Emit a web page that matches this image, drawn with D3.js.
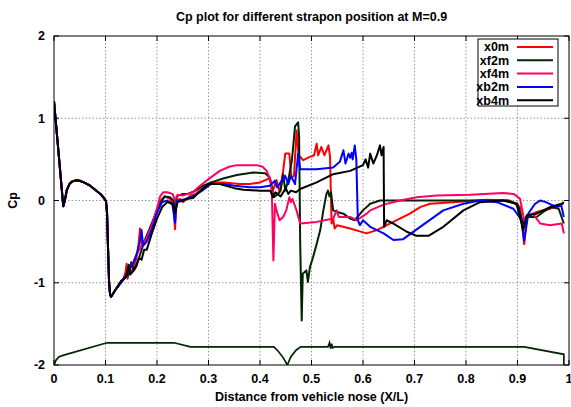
<!DOCTYPE html>
<html>
<head>
<meta charset="utf-8">
<script src="https://cdn.jsdelivr.net/npm/d3@7"></script>
<style>
  body { margin: 0; background: #fff; }
  svg text { font-family: "Liberation Sans", Arial, Helvetica, sans-serif; font-weight: bold; }
</style>
</head>
<body>
<svg id="chart"></svg>
<script>
// shared nose section (same for every strapon position)
let nose = [
  [0, 1.21], [0.018, -0.07], [0.021, 0.0], [0.025, 0.13], [0.03, 0.2], [0.035, 0.23],
  [0.042, 0.245], [0.05, 0.24], [0.06, 0.215], [0.07, 0.18], [0.08, 0.13], [0.09, 0.08],
  [0.097, 0.03], [0.101, -0.01], [0.103, -0.15], [0.105, -0.6], [0.107, -1.0],
  [0.109, -1.15], [0.111, -1.17]
];

let x0m = [
  [0.12, -1.08], [0.135, -0.95], [0.139, -0.87], [0.141, -0.77], [0.143, -0.95], [0.146, -0.82],
  [0.15, -0.88], [0.16, -0.7], [0.164, -0.55], [0.167, -0.34], [0.17, -0.55], [0.18, -0.45],
  [0.19, -0.3], [0.2, -0.1], [0.207, 0.0], [0.215, 0.05], [0.225, 0.02], [0.232, -0.05],
  [0.235, -0.35], [0.238, 0.0], [0.245, 0.02], [0.25, -0.02], [0.26, 0.03], [0.265, 0.06],
  [0.275, 0.08], [0.29, 0.15], [0.305, 0.22], [0.33, 0.22], [0.36, 0.2], [0.38, 0.2],
  [0.4, 0.22], [0.419, 0.27], [0.425, 0.12], [0.432, 0.25], [0.438, 0.1], [0.445, 0.36],
  [0.449, 0.57], [0.457, 0.57], [0.461, 0.28], [0.466, 0.3], [0.471, 0.85], [0.475, 0.55],
  [0.484, 0.49], [0.497, 0.53], [0.505, 0.55], [0.51, 0.69], [0.513, 0.55], [0.519, 0.65],
  [0.525, 0.55], [0.533, 0.67], [0.536, 0.53], [0.539, -0.28], [0.542, -0.22], [0.545, -0.34],
  [0.55, -0.3], [0.575, -0.34], [0.607, -0.4], [0.627, -0.36], [0.652, -0.28], [0.691, -0.16],
  [0.711, -0.08], [0.73, -0.04], [0.775, -0.02], [0.84, 0.01], [0.885, 0.0], [0.905, -0.08],
  [0.913, -0.53], [0.918, -0.2], [0.937, -0.14], [0.963, -0.1], [0.989, -0.04]
];

let xf2m = [
  [0.12, -1.08], [0.135, -0.96], [0.145, -0.9], [0.15, -0.75], [0.155, -0.85], [0.165, -0.7],
  [0.175, -0.5], [0.185, -0.35], [0.195, -0.2], [0.205, -0.05], [0.215, 0.05], [0.225, 0.04],
  [0.232, 0.0], [0.235, -0.12], [0.238, 0.05], [0.25, 0.08], [0.26, 0.08], [0.275, 0.12],
  [0.29, 0.18], [0.305, 0.22], [0.33, 0.27], [0.355, 0.31], [0.387, 0.34], [0.41, 0.33],
  [0.419, 0.28], [0.424, 0.12], [0.427, 0.04], [0.435, 0.08], [0.44, 0.12], [0.445, 0.32],
  [0.449, 0.12], [0.455, 0.25], [0.462, 0.49], [0.468, 0.9], [0.474, 0.95], [0.476, 0.77],
  [0.478, -0.5], [0.481, -1.46], [0.483, -0.89], [0.49, -0.85], [0.493, -0.99], [0.497, -0.81],
  [0.503, -0.69], [0.51, -0.53], [0.517, -0.36], [0.523, -0.12], [0.529, 0.08], [0.532, 0.12],
  [0.535, 0.05], [0.538, 0.1], [0.542, -0.12], [0.55, -0.14], [0.562, -0.16], [0.575, -0.22],
  [0.584, -0.24], [0.6, -0.12], [0.614, -0.04], [0.633, 0.0], [0.7, 0.0], [0.8, 0.0],
  [0.88, 0.0], [0.9, -0.04], [0.911, -0.28], [0.92, -0.2], [0.937, -0.2], [0.95, -0.14],
  [0.965, -0.08], [0.98, -0.1], [0.99, -0.28]
];

let xf4m = [
  [0.12, -1.08], [0.135, -0.95], [0.15, -0.8], [0.165, -0.6], [0.18, -0.45], [0.19, -0.3],
  [0.2, -0.1], [0.206, 0.05], [0.212, 0.1], [0.22, 0.1], [0.23, 0.08], [0.234, 0.02],
  [0.237, -0.05], [0.24, 0.07], [0.25, 0.06], [0.26, 0.08], [0.27, 0.1], [0.28, 0.16],
  [0.3, 0.26], [0.322, 0.36], [0.34, 0.41], [0.355, 0.43], [0.394, 0.43], [0.405, 0.41],
  [0.413, 0.36], [0.42, 0.25], [0.423, 0.1], [0.426, -0.73], [0.429, -0.04], [0.432, -0.12],
  [0.438, -0.24], [0.445, -0.2], [0.451, -0.12], [0.457, 0.04], [0.46, -0.02], [0.463, 0.02],
  [0.471, -0.12], [0.478, -0.28], [0.51, -0.26], [0.542, -0.22], [0.549, -0.12], [0.553, -0.2],
  [0.575, -0.2], [0.588, -0.24], [0.607, -0.16], [0.614, -0.12], [0.64, -0.05], [0.672, 0.0],
  [0.704, 0.04], [0.743, 0.06], [0.808, 0.07], [0.872, 0.09], [0.893, 0.08], [0.905, 0.02],
  [0.913, -0.24], [0.918, -0.19], [0.93, -0.16], [0.944, -0.28], [0.963, -0.3], [0.986, -0.28],
  [0.99, -0.4]
];

let xb2m = [
  [0.12, -1.08], [0.135, -0.96], [0.145, -0.85], [0.155, -0.75], [0.162, -0.62], [0.168, -0.45],
  [0.17, -0.36], [0.173, -0.55], [0.18, -0.5], [0.19, -0.35], [0.2, -0.15], [0.21, -0.02],
  [0.22, 0.0], [0.23, -0.05], [0.235, -0.27], [0.238, 0.0], [0.245, 0.0], [0.255, 0.02],
  [0.27, 0.05], [0.29, 0.13], [0.305, 0.2], [0.33, 0.2], [0.35, 0.18], [0.38, 0.16],
  [0.4, 0.16], [0.419, 0.18], [0.429, 0.24], [0.433, 0.16], [0.449, 0.3], [0.455, 0.2],
  [0.46, 0.3], [0.468, 0.2], [0.474, 0.57], [0.478, 0.38], [0.51, 0.38], [0.542, 0.4],
  [0.555, 0.47], [0.562, 0.61], [0.566, 0.45], [0.572, 0.57], [0.575, 0.52], [0.578, 0.58],
  [0.58, 0.5], [0.584, 0.67], [0.587, 0.5], [0.59, -0.24], [0.594, -0.3], [0.6, -0.24],
  [0.614, -0.32], [0.64, -0.4], [0.659, -0.48], [0.678, -0.47], [0.711, -0.32], [0.756, -0.12],
  [0.795, -0.04], [0.827, 0.0], [0.86, -0.02], [0.892, -0.1], [0.908, -0.24], [0.913, -0.49],
  [0.921, -0.16], [0.934, -0.04], [0.944, 0.0], [0.955, -0.02], [0.976, -0.08], [0.985, -0.06],
  [0.99, -0.2]
];

let xb4m = [
  [0.12, -1.08], [0.13, -0.98], [0.14, -0.93], [0.145, -0.78], [0.148, -0.9], [0.155, -0.85],
  [0.16, -0.8], [0.165, -0.7], [0.17, -0.72], [0.175, -0.6], [0.18, -0.6], [0.19, -0.4],
  [0.2, -0.22], [0.21, -0.08], [0.22, -0.02], [0.23, -0.04], [0.235, -0.15], [0.24, -0.02],
  [0.25, 0.0], [0.26, 0.02], [0.27, 0.03], [0.285, 0.12], [0.3, 0.2], [0.322, 0.2],
  [0.35, 0.15], [0.368, 0.13], [0.4, 0.12], [0.42, 0.12], [0.425, 0.04], [0.43, 0.1],
  [0.44, 0.05], [0.45, 0.15], [0.455, 0.08], [0.46, 0.12], [0.47, 0.1], [0.478, 0.14],
  [0.51, 0.22], [0.542, 0.32], [0.575, 0.36], [0.6, 0.43], [0.605, 0.5], [0.61, 0.4],
  [0.614, 0.57], [0.62, 0.45], [0.627, 0.55], [0.633, 0.67], [0.636, 0.55], [0.64, 0.65],
  [0.641, -0.32], [0.646, -0.24], [0.659, -0.28], [0.685, -0.38], [0.704, -0.43], [0.727, -0.43],
  [0.756, -0.32], [0.795, -0.12], [0.827, -0.02], [0.872, 0.0], [0.898, -0.04], [0.911, -0.36],
  [0.918, -0.18], [0.937, -0.16], [0.963, -0.08], [0.986, -0.04], [0.99, -0.02]
];

// vehicle body outline drawn along the bottom of the plot
let bodyProfile = [
  [0, -2.0], [0.004, -1.94], [0.01, -1.9], [0.019, -1.88], [0.103, -1.73], [0.233, -1.73],
  [0.265, -1.78], [0.427, -1.78], [0.435, -1.83], [0.445, -1.91], [0.453, -2.0], [0.46, -1.9],
  [0.47, -1.82], [0.479, -1.78], [0.532, -1.78], [0.535, -1.73], [0.537, -1.8], [0.539, -1.74],
  [0.541, -1.79], [0.545, -1.78], [0.913, -1.78], [0.99, -1.87], [0.99, -2.0]
];

let seriesNames = ["x0m", "xf2m", "xf4m", "xb2m", "xb4m"];
let seriesData = [x0m, xf2m, xf4m, xb2m, xb4m];
let seriesColors = ["#ff0000", "#012401", "#ff0063", "#0000ff", "#000000"];

let xTicks = [0, 0.1, 0.2, 0.3, 0.4, 0.5, 0.6, 0.7, 0.8, 0.9, 1];
let yTicks = [-2, -1, 0, 1, 2];

let config = getConfig();
let scales = getScales(config);
drawGrid(scales, config);
drawLines(scales, config);
drawAxes(scales, config);
drawLegend(config);

function getConfig() {
  let width = 571;
  let height = 407;
  let margin = { top: 36, bottom: 42, left: 54, right: 2 };
  let bodyWidth = width - margin.left - margin.right;
  let bodyHeight = height - margin.top - margin.bottom;
  let container = d3.select("#chart").attr("width", width).attr("height", height);
  return { width, height, margin, bodyWidth, bodyHeight, container };
}

function getScales({ bodyWidth, bodyHeight }) {
  let xScale = d3.scaleLinear().domain([0, 1]).range([0, bodyWidth]);
  let yScale = d3.scaleLinear().domain([-2, 2]).range([bodyHeight, 0]);
  return { xScale, yScale };
}

function drawGrid({ xScale, yScale }, { margin, bodyWidth, bodyHeight, container }) {
  let grid = container.append("g")
    .attr("transform", `translate(${margin.left},${margin.top})`);

  grid.selectAll(".vgrid").data(xTicks.slice(1, -1)).enter().append("line")
    .attr("x1", (d) => xScale(d)).attr("x2", (d) => xScale(d))
    .attr("y1", 0).attr("y2", bodyHeight)
    .attr("stroke", "#999").attr("stroke-width", 1).attr("stroke-dasharray", "1.5,2");

  grid.selectAll(".hgrid").data(yTicks.slice(1, -1)).enter().append("line")
    .attr("x1", 0).attr("x2", bodyWidth)
    .attr("y1", (d) => yScale(d)).attr("y2", (d) => yScale(d))
    .attr("stroke", "#999").attr("stroke-width", 1).attr("stroke-dasharray", "1.5,2");
}

function drawLines({ xScale, yScale }, { margin, bodyWidth, bodyHeight, container }) {
  container.append("clipPath").attr("id", "clip")
    .append("rect").attr("width", bodyWidth).attr("height", bodyHeight);

  let body = container.append("g")
    .attr("transform", `translate(${margin.left},${margin.top})`)
    .attr("clip-path", "url(#clip)");

  let line = d3.line().x((d) => xScale(d[0])).y((d) => yScale(d[1]));

  body.append("path")
    .attr("d", line(bodyProfile))
    .attr("fill", "none").attr("stroke", seriesColors[1]).attr("stroke-width", 1.7);

  seriesData.forEach((data, i) => {
    body.append("path")
      .attr("d", line(nose.concat(data)))
      .attr("fill", "none")
      .attr("stroke", seriesColors[i])
      .attr("stroke-width", 2)
      .attr("stroke-linejoin", "round");
  });
}

function drawAxes({ xScale, yScale }, { margin, bodyWidth, bodyHeight, container, width, height }) {
  let g = container.append("g")
    .attr("transform", `translate(${margin.left},${margin.top})`);

  g.append("rect")
    .attr("width", bodyWidth).attr("height", bodyHeight)
    .attr("fill", "none").attr("stroke", "#000").attr("stroke-width", 1);

  // inward ticks, mirrored on opposite sides
  let tl = 5;
  g.selectAll(".xtb").data(xTicks).enter().append("line")
    .attr("x1", (d) => xScale(d)).attr("x2", (d) => xScale(d))
    .attr("y1", bodyHeight).attr("y2", bodyHeight - tl).attr("stroke", "#000");
  g.selectAll(".xtt").data(xTicks).enter().append("line")
    .attr("x1", (d) => xScale(d)).attr("x2", (d) => xScale(d))
    .attr("y1", 0).attr("y2", tl).attr("stroke", "#000");
  g.selectAll(".ytl").data(yTicks).enter().append("line")
    .attr("x1", 0).attr("x2", tl)
    .attr("y1", (d) => yScale(d)).attr("y2", (d) => yScale(d)).attr("stroke", "#000");
  g.selectAll(".ytr").data(yTicks).enter().append("line")
    .attr("x1", bodyWidth).attr("x2", bodyWidth - tl)
    .attr("y1", (d) => yScale(d)).attr("y2", (d) => yScale(d)).attr("stroke", "#000");

  g.selectAll(".xlab").data(xTicks).enter().append("text")
    .attr("x", (d) => xScale(d)).attr("y", bodyHeight + 18)
    .attr("text-anchor", "middle").attr("font-size", 12.5)
    .text((d) => d3.format("")(d));

  g.selectAll(".ylab").data(yTicks).enter().append("text")
    .attr("x", -9).attr("y", (d) => yScale(d)).attr("dy", "0.35em")
    .attr("text-anchor", "end").attr("font-size", 12.5)
    .text((d) => d);

  container.append("text")
    .attr("x", margin.left + bodyWidth / 2).attr("y", 21)
    .attr("text-anchor", "middle").attr("font-size", 12.5)
    .text("Cp plot for different strapon position at M=0.9");

  container.append("text")
    .attr("x", margin.left + bodyWidth / 2).attr("y", 401)
    .attr("text-anchor", "middle").attr("font-size", 12.5)
    .text("Distance from vehicle nose (X/L)");

  container.append("text")
    .attr("transform", `translate(17,${margin.top + bodyHeight / 2}) rotate(-90)`)
    .attr("text-anchor", "middle").attr("font-size", 12.5)
    .text("Cp");
}

function drawLegend({ container }) {
  let legend = container.append("g").attr("transform", "translate(478,39)");
  legend.append("rect")
    .attr("width", 80).attr("height", 67)
    .attr("fill", "#fff").attr("stroke", "#000").attr("stroke-width", 1);

  let items = legend.selectAll(".item").data(seriesNames).enter().append("g")
    .attr("transform", (d, i) => `translate(0,${8 + i * 13.3})`);
  items.append("text")
    .attr("x", 31).attr("dy", "0.35em")
    .attr("text-anchor", "end").attr("font-size", 12.5)
    .text((d) => d);
  items.append("line")
    .attr("x1", 39).attr("x2", 75)
    .attr("stroke", (d, i) => seriesColors[i]).attr("stroke-width", 2);
}
</script>
</body>
</html>
